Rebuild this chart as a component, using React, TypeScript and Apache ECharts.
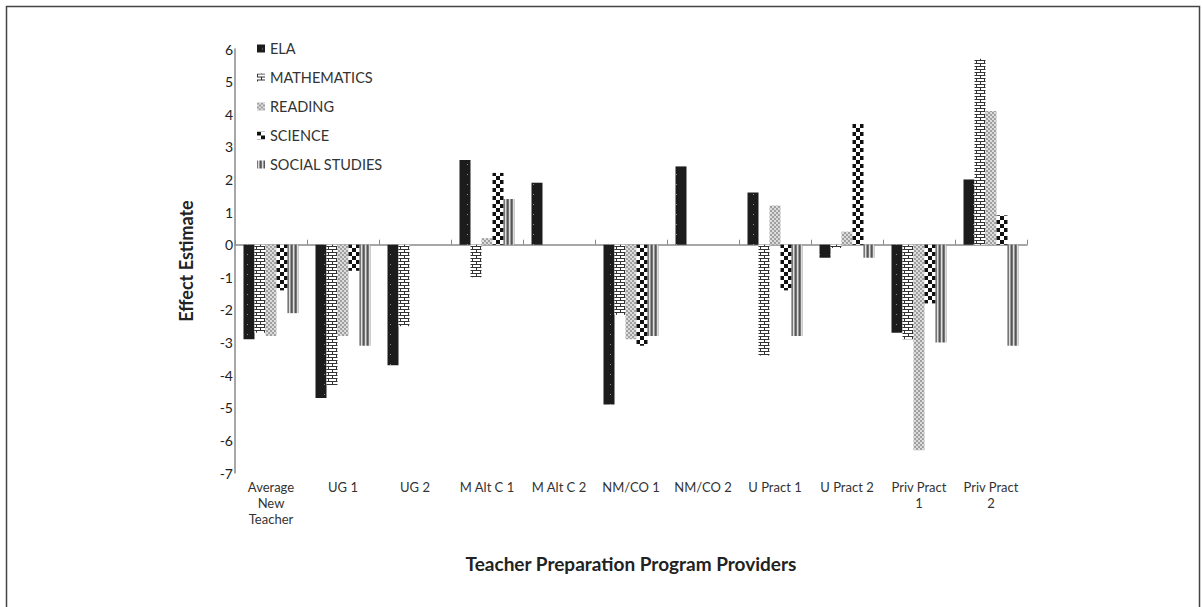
import React, { useEffect, useRef } from "react";
import * as echarts from "echarts";

const categories = [
  "Average\nNew\nTeacher",
  "UG 1",
  "UG 2",
  "M Alt C 1",
  "M Alt C 2",
  "NM/CO 1",
  "NM/CO 2",
  "U Pract 1",
  "U Pract 2",
  "Priv Pract\n1",
  "Priv Pract\n2",
];

const seriesNames = ["ELA", "MATHEMATICS", "READING", "SCIENCE", "SOCIAL STUDIES"];

const ela = [-2.9, -4.7, -3.7, 2.6, 1.9, -4.9, 2.4, 1.6, -0.4, -2.7, 2.0];
const mathematics = [-2.7, -4.3, -2.5, -1.0, null, -2.15, null, -3.4, -0.1, -2.9, 5.7];
const reading = [-2.8, -2.8, null, 0.2, null, -2.9, null, 1.2, 0.4, -6.3, 4.1];
const science = [-1.4, -0.8, null, 2.2, null, -3.1, null, -1.4, 3.7, -1.8, 0.9];
const socialStudies = [-2.1, -3.1, null, 1.4, null, -2.8, null, -2.8, -0.4, -3.0, -3.1];

const yTicks = { min: -7, max: 6, interval: 1 };

const svgUrl = (w: number, h: number, body: string) =>
  "data:image/svg+xml;charset=utf-8," +
  encodeURIComponent(
    `<svg xmlns="http://www.w3.org/2000/svg" width="${w}" height="${h}" shape-rendering="crispEdges">${body}</svg>`
  );

const pat = (w: number, h: number, body: string) => ({
  image: svgUrl(w, h, body),
  imageWidth: w,
  imageHeight: h,
  repeat: "repeat",
});

const patterns = [
  // ELA: black with faint grey dots
  pat(11, 10, `<rect width="11" height="10" fill="#1c1c1c"/><rect x="5" y="4" width="1.2" height="1.2" fill="#8a8a8a"/>`),
  // MATHEMATICS: brick ladder
  pat(8, 6, `<rect width="8" height="6" fill="#ffffff"/><rect x="0" y="0" width="8" height="1" fill="#333"/><rect x="0" y="3" width="8" height="1" fill="#333"/><rect x="0" y="0" width="1" height="3" fill="#333"/><rect x="4" y="3" width="1" height="3" fill="#333"/>`),
  // READING: grey fine check
  pat(4, 4, `<rect width="4" height="4" fill="#dcdcdc"/><rect x="0" y="0" width="2" height="2" fill="#a0a0a0"/><rect x="2" y="2" width="2" height="2" fill="#a0a0a0"/>`),
  // SCIENCE: black/white checkerboard
  pat(8, 8, `<rect width="8" height="8" fill="#ffffff"/><rect x="0" y="0" width="4" height="4" fill="#111"/><rect x="4" y="4" width="4" height="4" fill="#111"/>`),
  // SOCIAL STUDIES: vertical grey stripes
  pat(4, 2, `<rect width="4" height="2" fill="#dddddd"/><rect x="0" y="0" width="1" height="2" fill="#777"/><rect x="2" y="0" width="1" height="2" fill="#999"/><rect x="3" y="0" width="1" height="2" fill="#555"/>`),
];

const seriesData = [ela, mathematics, reading, science, socialStudies];

const FONT = "Lato, 'Open Sans', sans-serif";

export default function App() {
  const ref = useRef<HTMLDivElement>(null);

  useEffect(() => {
    if (!ref.current) return;
    const chart = echarts.init(ref.current, null, { renderer: "svg" });
    chart.setOption({
      animation: false,
      backgroundColor: "#ffffff",
      textStyle: { fontFamily: FONT },
      grid: { left: 235, right: 175, top: 49, bottom: 134 },
      legend: {
        orient: "vertical",
        left: 252,
        top: 36,
        itemWidth: 8,
        itemHeight: 8,
        itemGap: 14,
        icon: "rect",
        data: seriesNames,
        textStyle: { fontSize: 14.5, color: "#333", fontFamily: FONT },
      },
      xAxis: [
        {
          type: "category",
          data: categories,
          position: "bottom",
          axisLine: { show: false, onZero: false },
          axisTick: { show: false },
          axisLabel: {
            interval: 0,
            fontSize: 13,
            color: "#333",
            lineHeight: 16,
            margin: 6,
            fontFamily: FONT,
          },
          name: "Teacher Preparation Program Providers",
          nameLocation: "middle",
          nameGap: 81,
          nameTextStyle: { fontSize: 19, fontWeight: "bold", color: "#222", fontFamily: FONT },
        },
        {
          type: "category",
          data: categories,
          position: "bottom",
          axisLine: { show: true, onZero: true, lineStyle: { color: "#8a8a8a", width: 1.5 } },
          axisTick: { show: true, inside: true, length: 5, lineStyle: { color: "#8a8a8a" } },
          axisLabel: { show: false },
        },
      ],
      yAxis: {
        type: "value",
        min: yTicks.min,
        max: yTicks.max,
        interval: yTicks.interval,
        axisLine: { show: true, lineStyle: { color: "#8a8a8a", width: 1.5 } },
        axisTick: { show: false },
        splitLine: { show: false },
        axisLabel: { fontSize: 14, color: "#222", margin: 2, fontFamily: FONT },
        name: "Effect Estimate",
        nameLocation: "middle",
        nameGap: 40,
        nameTextStyle: { fontSize: 18, fontWeight: "bold", color: "#222", fontFamily: FONT },
      },
      graphic: [
        {
          type: "rect",
          shape: { x: 6.5, y: 6.5, width: 1193, height: 620 },
          style: { fill: "none", stroke: "#444", lineWidth: 1.5 },
          silent: true,
        },
      ],
      series: seriesNames.map((name, i) => ({
        name,
        type: "bar",
        xAxisIndex: 0,
        data: seriesData[i],
        barWidth: 11,
        barGap: "0%",
        itemStyle: { color: patterns[i] },
      })),
    });
    return () => chart.dispose();
  }, []);

  return (
    <div
      ref={ref}
      style={{ position: "fixed", left: 0, top: 0, width: 1202, height: 607, background: "#fff" }}
    />
  );
}
